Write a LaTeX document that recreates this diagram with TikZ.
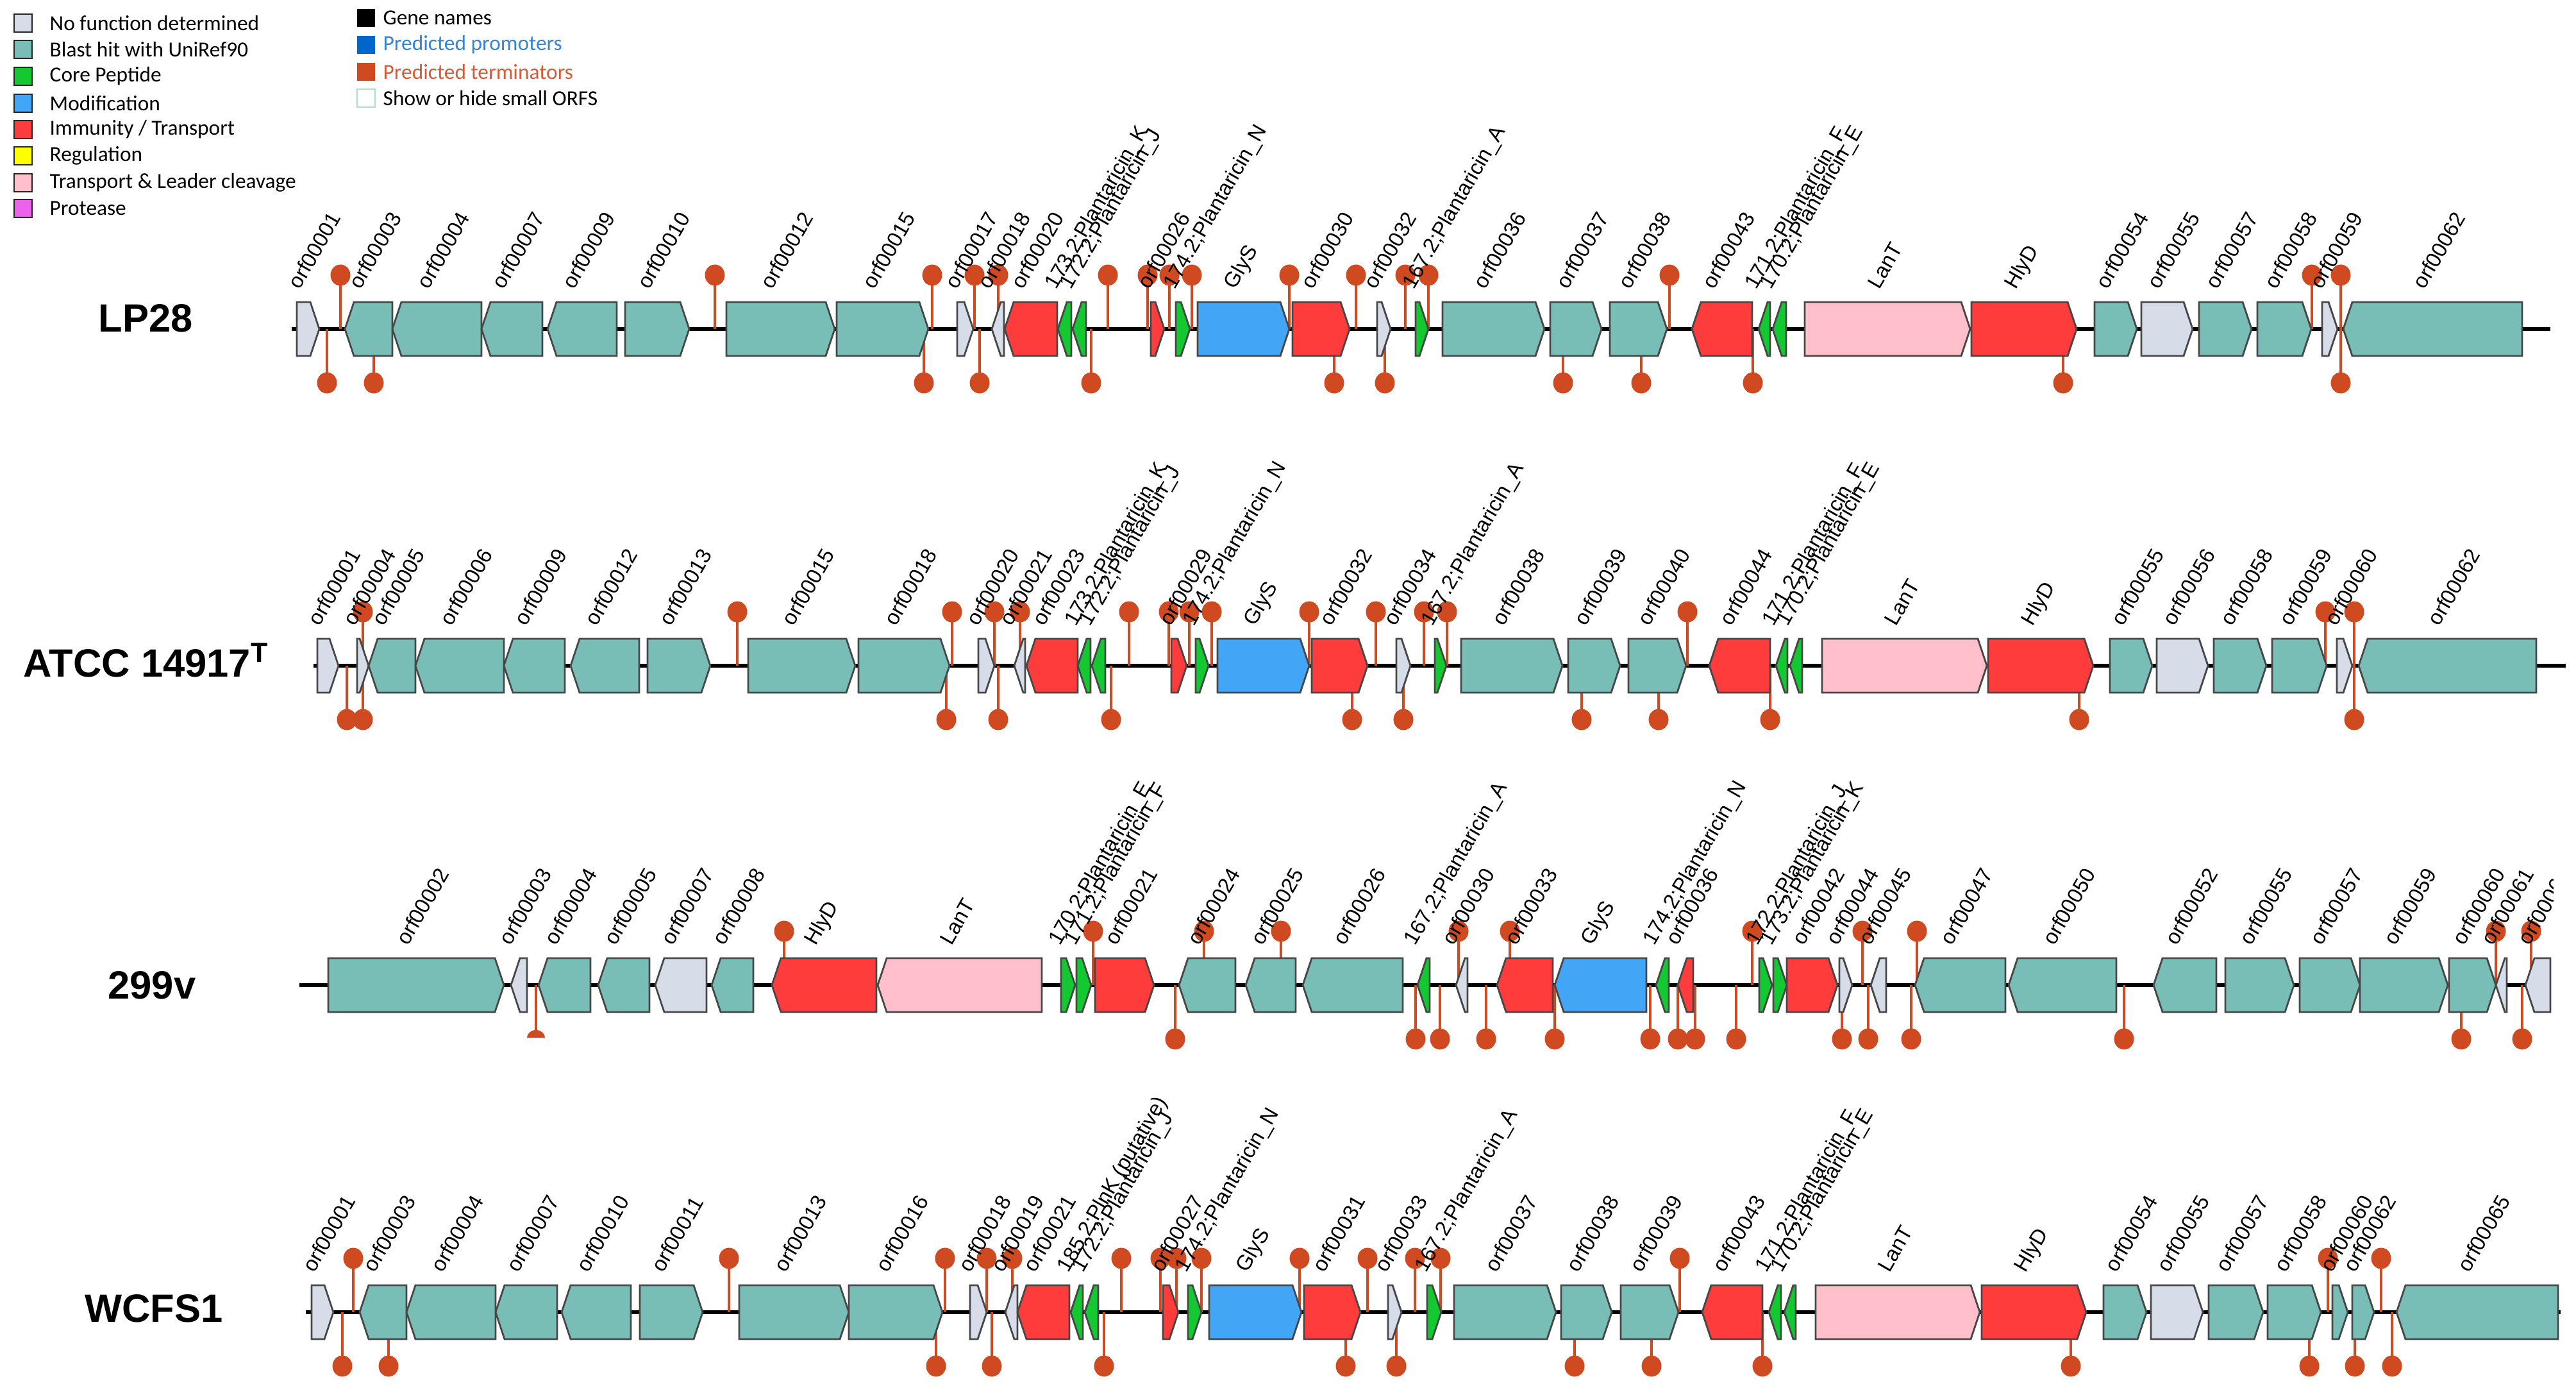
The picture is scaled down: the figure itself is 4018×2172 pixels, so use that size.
\documentclass[tikz,border=0pt]{standalone}
\usepackage{fontspec}
\setmainfont{Liberation Sans}
\newfontfamily\legfont{Carlito}

\definecolor{nofn}{RGB}{214,220,232}
\definecolor{blast}{RGB}{120,190,183}
\definecolor{core}{RGB}{20,200,50}
\definecolor{modif}{RGB}{66,165,245}
\definecolor{immun}{RGB}{255,60,60}
\definecolor{regul}{RGB}{255,255,0}
\definecolor{trans}{RGB}{255,192,203}
\definecolor{prot}{RGB}{236,98,236}
\definecolor{promo}{RGB}{0,102,204}
\definecolor{termi}{RGB}{208,74,33}
\definecolor{smorf}{RGB}{170,225,190}

\tikzset{
  gene/.style={draw=black!72, line width=0.28mm},
  glabel/.style={rotate=60, anchor=base west, inner sep=0pt, font=\fontsize{9.4}{11}\selectfont},
  strain/.style={anchor=base, inner sep=0pt, font=\fontsize{17.5}{20}\selectfont\bfseries},
  legbox/.style={draw=black!85, line width=0.25mm, minimum size=2.8mm, inner sep=0pt},
  legtext/.style={anchor=west, inner sep=0pt, font=\legfont\fontsize{9.5}{11}\selectfont},
  stem/.style={draw=termi, line width=0.45mm},
  backbone/.style={line width=0.6mm}
}

\newcommand\fgene[5]{%
  \pgfmathsetmacro\gtip{min(14,#2-#1)}%
  \pgfmathsetmacro\gbx{#2-\gtip}%
  \draw[gene, fill=#3] (#1,\rowy-42) -- (\gbx,\rowy-42) -- (#2,\rowy) -- (\gbx,\rowy+42) -- (#1,\rowy+42) -- cycle;
  \node[glabel] (#4) at ({(#1+#2)/2-13},\rowy-60) {#5};}
\newcommand\rgene[5]{%
  \pgfmathsetmacro\gtip{min(14,#2-#1)}%
  \pgfmathsetmacro\gbx{#1+\gtip}%
  \draw[gene, fill=#3] (#1,\rowy) -- (\gbx,\rowy-42) -- (#2,\rowy-42) -- (#2,\rowy+42) -- (\gbx,\rowy+42) -- cycle;
  \node[glabel] (#4) at ({(#1+#2)/2-13},\rowy-60) {#5};}
\newcommand\termup[1]{%
  \draw[stem] (#1,\rowy) -- (#1,\rowy-84);
  \fill[termi] (#1,\rowy-84) ellipse [x radius=15.5, y radius=16.5];}
\newcommand\termdn[1]{%
  \draw[stem] (#1,\rowy) -- (#1,\rowy+84);
  \fill[termi] (#1,\rowy+84) ellipse [x radius=15.5, y radius=16.5];}

\begin{document}
\begin{tikzpicture}[x=0.1mm, y=-0.1mm]
\useasboundingbox (0,0) rectangle (4018,2172);

\node[legbox, fill=nofn] (k1) at (36,36) {};
\node[legtext] (t1) at (77,36) {No function determined};
\node[legbox, fill=blast] (k2) at (36,77) {};
\node[legtext] (t2) at (77,77) {Blast hit with UniRef90};
\node[legbox, fill=core] (k3) at (36,119) {};
\node[legtext] (t3) at (77,119) {Core Peptide};
\node[legbox, fill=modif] (k4) at (36,161) {};
\node[legtext] (t4) at (77,161) {Modification};
\node[legbox, fill=immun] (k5) at (36,202) {};
\node[legtext] (t5) at (77,202) {Immunity / Transport};
\node[legbox, fill=regul] (k6) at (36,243) {};
\node[legtext] (t6) at (77,243) {Regulation};
\node[legbox, fill=trans] (k7) at (36,285) {};
\node[legtext] (t7) at (77,285) {Transport \& Leader cleavage};
\node[legbox, fill=prot] (k8) at (36,325) {};
\node[legtext] (t8) at (77,325) {Protease};
\node[legbox, draw=none, fill=black] (k9) at (571,28) {};
\node[legtext] (t9) at (597,28) {Gene names};
\node[legbox, draw=none, fill=promo] (k10) at (571,70) {};
\node[legtext, text=promo!80!white] (t10) at (597,70) {Predicted promoters};
\node[legbox, draw=none, fill=termi] (k11) at (571,112) {};
\node[legtext, text=termi!90!white] (t11) at (597,112) {Predicted terminators};
\node[legbox, draw=smorf, fill=white] (k12) at (571,153) {};
\node[legtext] (t12) at (597,153) {Show or hide small ORFS};

\def\rowy{513}
\draw[backbone] (455,\rowy) -- (3978,\rowy);
\termup{531} \termup{1115} \termup{1454} \termup{1520} \termup{1557} \termup{1728}
\termup{1790} \termup{1824} \termup{1859} \termup{2011} \termup{2115} \termup{2192}
\termup{2228} \termup{2604} \termup{3606} \termup{3651}
\termdn{510} \termdn{583} \termdn{1441} \termdn{1528} \termdn{1702} \termdn{2081}
\termdn{2160} \termdn{2438} \termdn{2560} \termdn{2734} \termdn{3218} \termdn{3651}
\fgene{463}{498}{nofn}{lp1}{orf00001}
\rgene{538}{612}{blast}{lp2}{orf00003}
\rgene{612}{751}{blast}{lp3}{orf00004}
\rgene{751}{846}{blast}{lp4}{orf00007}
\rgene{854}{962}{blast}{lp5}{orf00009}
\fgene{975}{1075}{blast}{lp6}{orf00010}
\fgene{1133}{1302}{blast}{lp7}{orf00012}
\fgene{1305}{1448}{blast}{lp8}{orf00015}
\fgene{1493}{1518}{nofn}{lp9}{orf00017}
\rgene{1547}{1566}{nofn}{lp10}{orf00018}
\rgene{1567}{1649}{immun}{lp11}{orf00020}
\rgene{1650}{1671}{core}{lp12}{173.2;Plantaricin\_K}
\rgene{1673}{1694}{core}{lp13}{172.2;Plantaricin\_J}
\fgene{1795}{1816}{immun}{lp14}{orf00026}
\fgene{1834}{1856}{core}{lp15}{174.2;Plantaricin\_N}
\fgene{1868}{2011}{modif}{lp16}{GlyS}
\fgene{2016}{2105}{immun}{lp17}{orf00030}
\fgene{2148}{2169}{nofn}{lp18}{orf00032}
\fgene{2208}{2228}{core}{lp19}{167.2;Plantaricin\_A}
\fgene{2250}{2409}{blast}{lp20}{orf00036}
\fgene{2418}{2498}{blast}{lp21}{orf00037}
\fgene{2511}{2600}{blast}{lp22}{orf00038}
\rgene{2639}{2733}{immun}{lp23}{orf00043}
\rgene{2743}{2761}{core}{lp24}{171.2;Plantaricin\_F}
\rgene{2765}{2786}{core}{lp25}{170.2;Plantaricin\_E}
\fgene{2815}{3073}{trans}{lp26}{LanT}
\fgene{3075}{3239}{immun}{lp27}{HlyD}
\fgene{3267}{3333}{blast}{lp28}{orf00054}
\fgene{3340}{3420}{nofn}{lp29}{orf00055}
\fgene{3430}{3512}{blast}{lp30}{orf00057}
\fgene{3521}{3605}{blast}{lp31}{orf00058}
\fgene{3622}{3646}{nofn}{lp32}{orf00059}
\rgene{3655}{3934}{blast}{lp33}{orf00062}
\node[strain] (lpname) at (227,\rowy+4) {LP28};

\def\rowy{1038}
\draw[backbone] (489,\rowy) -- (4002,\rowy);
\termup{566} \termup{1150} \termup{1485} \termup{1551} \termup{1591} \termup{1761}
\termup{1823} \termup{1855} \termup{1890} \termup{2042} \termup{2146} \termup{2221}
\termup{2257} \termup{2632} \termup{3627} \termup{3672}
\termdn{541} \termdn{566} \termdn{1476} \termdn{1557} \termdn{1733} \termdn{2109}
\termdn{2189} \termdn{2467} \termdn{2587} \termdn{2761} \termdn{3243} \termdn{3672}
\fgene{495}{528}{nofn}{at1}{orf00001}
\fgene{557}{575}{nofn}{at2}{orf00004}
\rgene{575}{648}{blast}{at3}{orf00005}
\rgene{648}{786}{blast}{at4}{orf00006}
\rgene{786}{881}{blast}{at5}{orf00009}
\rgene{890}{997}{blast}{at6}{orf00012}
\fgene{1010}{1108}{blast}{at7}{orf00013}
\fgene{1167}{1334}{blast}{at8}{orf00015}
\fgene{1339}{1481}{blast}{at9}{orf00018}
\fgene{1526}{1551}{nofn}{at10}{orf00020}
\rgene{1582}{1599}{nofn}{at11}{orf00021}
\rgene{1601}{1681}{immun}{at12}{orf00023}
\rgene{1681}{1701}{core}{at13}{173.2;Plantaricin\_K}
\rgene{1703}{1724}{core}{at14}{172.2;Plantaricin\_J}
\fgene{1827}{1851}{immun}{at15}{orf00029}
\fgene{1865}{1885}{core}{at16}{174.2;Plantaricin\_N}
\fgene{1899}{2042}{modif}{at17}{GlyS}
\fgene{2046}{2133}{immun}{at18}{orf00032}
\fgene{2178}{2200}{nofn}{at19}{orf00034}
\fgene{2238}{2256}{core}{at20}{167.2;Plantaricin\_A}
\fgene{2279}{2437}{blast}{at21}{orf00038}
\fgene{2446}{2527}{blast}{at22}{orf00039}
\fgene{2540}{2630}{blast}{at23}{orf00040}
\rgene{2666}{2761}{immun}{at24}{orf00044}
\rgene{2770}{2788}{core}{at25}{171.2;Plantaricin\_F}
\rgene{2792}{2811}{core}{at26}{170.2;Plantaricin\_E}
\fgene{2842}{3099}{trans}{at27}{LanT}
\fgene{3101}{3265}{immun}{at28}{HlyD}
\fgene{3291}{3357}{blast}{at29}{orf00055}
\fgene{3364}{3444}{nofn}{at30}{orf00056}
\fgene{3453}{3535}{blast}{at31}{orf00058}
\fgene{3544}{3629}{blast}{at32}{orf00059}
\fgene{3645}{3669}{nofn}{at33}{orf00060}
\rgene{3679}{3956}{blast}{at34}{orf00062}
\node[strain] (atname) at (228,\rowy+17) {ATCC 14917\textsuperscript{T}};

\def\rowy{1536}
\draw[backbone] (467,\rowy) -- (3978,\rowy);
\termup{1223} \termup{1705} \termup{1878} \termup{1998} \termup{2275} \termup{2355}
\termup{2733} \termup{2905} \termup{2990} \termup{3893} \termup{3948}
\termdn{1833} \termdn{2208} \termdn{2246} \termdn{2318} \termdn{2425} \termdn{2574}
\termdn{2617} \termdn{2644} \termdn{2708} \termdn{2873} \termdn{2914} \termdn{2981}
\termdn{3313} \termdn{3839} \termdn{3934}
\draw[stem] (836,\rowy) -- (836,\rowy+80);
\fill[termi] (822,\rowy+82) -- (850,\rowy+82) arc[start angle=0, end angle=-180, x radius=14, y radius=12] -- cycle;
\fgene{512}{786}{blast}{sv1}{orf00002}
\rgene{797}{822}{nofn}{sv2}{orf00003}
\rgene{840}{921}{blast}{sv3}{orf00004}
\rgene{933}{1013}{blast}{sv4}{orf00005}
\rgene{1022}{1102}{nofn}{sv5}{orf00007}
\rgene{1110}{1175}{blast}{sv6}{orf00008}
\rgene{1204}{1367}{immun}{sv7}{HlyD}
\rgene{1369}{1625}{trans}{sv8}{LanT}
\fgene{1655}{1677}{core}{sv9}{170.2;Plantaricin\_E}
\fgene{1679}{1702}{core}{sv10}{171.2;Plantaricin\_F}
\fgene{1708}{1800}{immun}{sv11}{orf00021}
\rgene{1839}{1927}{blast}{sv12}{orf00024}
\rgene{1943}{2021}{blast}{sv13}{orf00025}
\rgene{2032}{2188}{blast}{sv14}{orf00026}
\rgene{2211}{2230}{core}{sv15}{167.2;Plantaricin\_A}
\rgene{2271}{2289}{nofn}{sv16}{orf00030}
\rgene{2335}{2422}{immun}{sv17}{orf00033}
\rgene{2425}{2568}{modif}{sv18}{GlyS}
\rgene{2583}{2603}{core}{sv19}{174.2;Plantaricin\_N}
\rgene{2617}{2641}{immun}{sv20}{orf00036}
\fgene{2744}{2764}{core}{sv21}{172.2;Plantaricin\_J}
\fgene{2766}{2787}{core}{sv22}{173.2;Plantaricin\_K}
\fgene{2787}{2866}{immun}{sv23}{orf00042}
\fgene{2869}{2889}{nofn}{sv24}{orf00044}
\rgene{2918}{2942}{nofn}{sv25}{orf00045}
\rgene{2987}{3128}{blast}{sv26}{orf00047}
\rgene{3133}{3301}{blast}{sv27}{orf00050}
\rgene{3359}{3457}{blast}{sv28}{orf00052}
\fgene{3471}{3578}{blast}{sv29}{orf00055}
\fgene{3587}{3681}{blast}{sv30}{orf00057}
\fgene{3681}{3818}{blast}{sv31}{orf00059}
\fgene{3820}{3893}{blast}{sv32}{orf00060}
\rgene{3893}{3910}{nofn}{sv33}{orf00061}
\begin{scope}
  \clip (3920,1150) rectangle (3982,1700);
  \rgene{3939}{3978}{nofn}{sv34}{orf00062}
\end{scope}
\node[strain] (svname) at (237,\rowy+21) {299v};

\def\rowy{2046}
\draw[backbone] (477,\rowy) -- (3994,\rowy);
\termup{551} \termup{1137} \termup{1474} \termup{1539} \termup{1579} \termup{1749}
\termup{1810} \termup{1835} \termup{1874} \termup{2027} \termup{2133} \termup{2207}
\termup{2247} \termup{2620} \termup{3631} \termup{3714}
\termdn{534} \termdn{606} \termdn{1460} \termdn{1547} \termdn{1722} \termdn{2099}
\termdn{2178} \termdn{2456} \termdn{2576} \termdn{2749} \termdn{3230} \termdn{3602}
\termdn{3673} \termdn{3731}
\fgene{486}{520}{nofn}{wc1}{orf00001}
\rgene{561}{634}{blast}{wc2}{orf00003}
\rgene{634}{773}{blast}{wc3}{orf00004}
\rgene{773}{869}{blast}{wc4}{orf00007}
\rgene{876}{984}{blast}{wc5}{orf00010}
\fgene{998}{1096}{blast}{wc6}{orf00011}
\fgene{1153}{1324}{blast}{wc7}{orf00013}
\fgene{1324}{1470}{blast}{wc8}{orf00016}
\fgene{1513}{1539}{nofn}{wc9}{orf00018}
\rgene{1568}{1587}{nofn}{wc10}{orf00019}
\rgene{1587}{1668}{immun}{wc11}{orf00021}
\rgene{1670}{1689}{core}{wc12}{185.2;PlnK (putative)}
\rgene{1692}{1713}{core}{wc13}{172.2;Plantaricin\_J}
\fgene{1814}{1838}{immun}{wc14}{orf00027}
\fgene{1853}{1874}{core}{wc15}{174.2;Plantaricin\_N}
\fgene{1886}{2030}{modif}{wc16}{GlyS}
\fgene{2034}{2122}{immun}{wc17}{orf00031}
\fgene{2165}{2186}{nofn}{wc18}{orf00033}
\fgene{2226}{2248}{core}{wc19}{167.2;Plantaricin\_A}
\fgene{2268}{2427}{blast}{wc20}{orf00037}
\fgene{2435}{2514}{blast}{wc21}{orf00038}
\fgene{2528}{2618}{blast}{wc22}{orf00039}
\rgene{2655}{2749}{immun}{wc23}{orf00043}
\rgene{2759}{2778}{core}{wc24}{171.2;Plantaricin\_F}
\rgene{2783}{2801}{core}{wc25}{170.2;Plantaricin\_E}
\fgene{2832}{3088}{trans}{wc26}{LanT}
\fgene{3091}{3254}{immun}{wc27}{HlyD}
\fgene{3281}{3348}{blast}{wc28}{orf00054}
\fgene{3355}{3436}{nofn}{wc29}{orf00055}
\fgene{3445}{3530}{blast}{wc30}{orf00057}
\fgene{3537}{3620}{blast}{wc31}{orf00058}
\fgene{3638}{3662}{blast}{wc32}{orf00060}
\fgene{3669}{3703}{blast}{wc33}{orf00062}
\rgene{3738}{3990}{blast}{wc34}{orf00065}
\node[strain] (wcname) at (240,\rowy+15) {WCFS1};
\end{tikzpicture}
\end{document}
